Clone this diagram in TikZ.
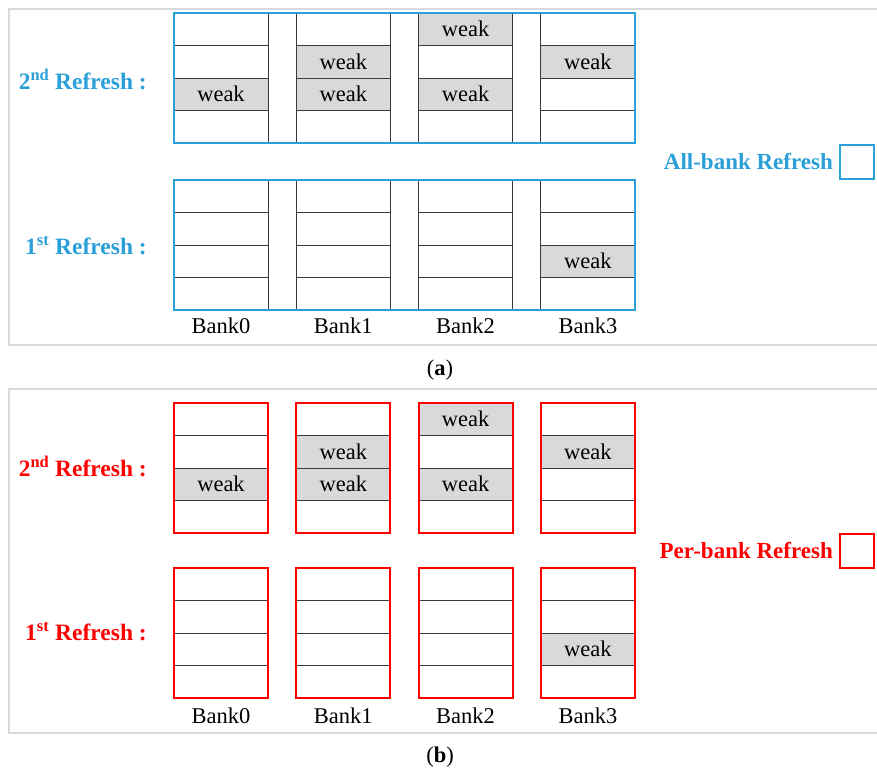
\documentclass[tikz,border=0pt]{standalone}
\usepackage{fontspec}
\setmainfont{Liberation Serif}
\definecolor{allblue}{HTML}{2A9FD8}
\definecolor{perred}{HTML}{FF0000}
\definecolor{weakgray}{HTML}{D9D9D9}
\definecolor{framegray}{HTML}{DADADA}
\definecolor{rowline}{HTML}{3A3A3A}
% cells holding a weak row
\def\markweak#1{\expandafter\def\csname wk#1\endcsname{}}
\markweak{a2-0-3}\markweak{a2-1-2}\markweak{a2-1-3}\markweak{a2-2-1}\markweak{a2-2-3}\markweak{a2-3-2}
\markweak{a1-3-3}
\markweak{b2-0-3}\markweak{b2-1-2}\markweak{b2-1-3}\markweak{b2-2-1}\markweak{b2-2-3}\markweak{b2-3-2}
\markweak{b1-3-3}
\begin{document}
\begin{tikzpicture}[x=1pt,y=-1pt,
  cell/.style={draw=rowline, line width=1pt, minimum width=94pt, minimum height=32.5pt,
    inner sep=0pt, outer sep=0pt, anchor=north west, font=\fontsize{22.5}{24}\selectfont},
  weakcell/.style={cell, fill=weakgray},
  banklabel/.style={font=\fontsize{22.5}{24}\selectfont, inner sep=0pt},
  reflabel/.style={font=\bfseries\fontsize{23.5}{25}\selectfont, inner sep=0pt, anchor=east},
  legend/.style={font=\bfseries\fontsize{23}{25}\selectfont, inner sep=0pt, anchor=east},
  caption/.style={font=\fontsize{22.5}{24}\selectfont, inner sep=0pt},
  panelframe/.style={draw=framegray, line width=2pt},
]
\useasboundingbox (0,0) rectangle (877,774);
\begin{scope}
\clip (0,0) rectangle (877,774);
\draw[panelframe] (9,9) rectangle (890,345);
\draw[panelframe] (9,389) rectangle (890,733);
\end{scope}

% bank cells: group id / top y
\foreach \g/\ty in {a2/13, a1/180, b2/403, b1/568}{
  \foreach \b in {0,...,3}{
    \foreach \r in {1,...,4}{
      \ifcsname wk\g-\b-\r\endcsname
        \node[weakcell] (\g-\b-\r) at ({174+122.3*\b},{\ty+32.5*(\r-1)}) {weak};
      \else
        \node[cell] (\g-\b-\r) at ({174+122.3*\b},{\ty+32.5*(\r-1)}) {};
      \fi
    }
  }
}

% all-bank refresh: one outline around every bank
\draw[allblue, line width=2pt] (a2-0-1.north west) rectangle (a2-3-4.south east);
\draw[allblue, line width=2pt] (a1-0-1.north west) rectangle (a1-3-4.south east);
% per-bank refresh: one outline per bank
\foreach \g in {b2,b1}{
  \foreach \b in {0,...,3}{
    \draw[perred, line width=2pt] (\g-\b-1.north west) rectangle (\g-\b-4.south east);
  }
}

% refresh labels
\node[reflabel, text=allblue] (la2) at (147,79) {2\textsuperscript{nd} Refresh :};
\node[reflabel, text=allblue] (la1) at (147,246) {1\textsuperscript{st} Refresh :};
\node[reflabel, text=perred] (lb2) at (147,466) {2\textsuperscript{nd} Refresh :};
\node[reflabel, text=perred] (lb1) at (147,632) {1\textsuperscript{st} Refresh :};

% bank names
\foreach \b in {0,...,3}{
  \node[banklabel] (na\b) at ({221+122.3*\b},326) {Bank\b};
  \node[banklabel] (nb\b) at ({221+122.3*\b},716) {Bank\b};
}

% legends
\node[draw=allblue, line width=2pt, minimum size=34pt, inner sep=0pt] (keya) at (857,162) {};
\node[legend, text=allblue] (lega) at (833,162) {All-bank Refresh};
\node[draw=perred, line width=2pt, minimum size=34pt, inner sep=0pt] (keyb) at (857,551) {};
\node[legend, text=perred] (legb) at (833,551) {Per-bank Refresh};

% captions
\node[caption] (capa) at (440,370) {(\textbf{a})};
\node[caption] (capb) at (440,757) {(\textbf{b})};
\end{tikzpicture}
\end{document}
